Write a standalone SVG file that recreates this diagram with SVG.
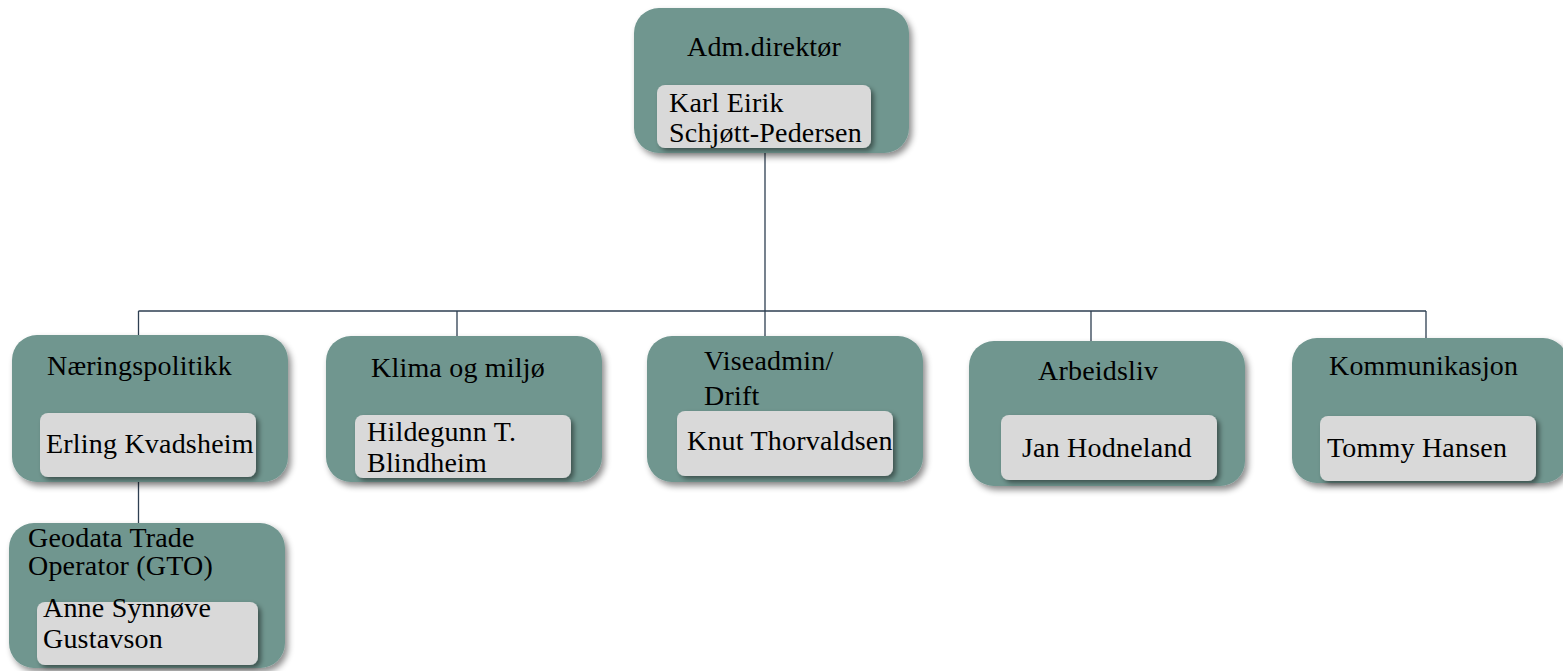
<svg xmlns="http://www.w3.org/2000/svg" width="1563" height="671" viewBox="0 0 1563 671">
<style>
.outer{fill:#6f968f;filter:url(#sh)}
.inner{fill:#d9d9d9;filter:url(#sh2)}
.t{font-family:"Liberation Serif","Times New Roman",serif;font-size:28px;letter-spacing:0.2px;fill:#000}
.c{stroke:#2e3f52;stroke-width:1.3;fill:none}
</style>
<defs>
<filter id="sh" x="-10%" y="-10%" width="125%" height="130%">
<feDropShadow dx="3" dy="4" stdDeviation="3" flood-color="#000" flood-opacity="0.45"/>
</filter>
<filter id="sh2" x="-10%" y="-10%" width="125%" height="135%">
<feDropShadow dx="3" dy="3" stdDeviation="2.5" flood-color="#000" flood-opacity="0.45"/>
</filter>
</defs>
<rect width="1563" height="671" fill="#fff"/>
<g id="connectors">
<path class="c" d="M765 153V336M138.5 311H1426M138.5 311V335M457 311V336M1091 311V341M1426 311V338M138.5 482V523"/>
</g>
<g id="adm">
<rect class="outer" x="634" y="8" width="275" height="145" rx="25"/>
<rect class="inner" x="657" y="85" width="214" height="63" rx="8"/>
<text class="t" x="687" y="56">Adm.direktør</text>
<text class="t" x="669" y="112">Karl Eirik</text>
<text class="t" x="669" y="142">Schjøtt-Pedersen</text>
</g>
<g id="naering">
<rect class="outer" x="12" y="335" width="276" height="147" rx="25"/>
<rect class="inner" x="40" y="413" width="216" height="64" rx="8"/>
<text class="t" x="47" y="375">Næringspolitikk</text>
<text class="t" x="46" y="453">Erling Kvadsheim</text>
</g>
<g id="klima">
<rect class="outer" x="326" y="336" width="276" height="146" rx="25"/>
<rect class="inner" x="355" y="415" width="216" height="63" rx="8"/>
<text class="t" x="371" y="377">Klima og miljø</text>
<text class="t" x="367" y="441">Hildegunn T.</text>
<text class="t" x="367" y="472">Blindheim</text>
</g>
<g id="viseadmin">
<rect class="outer" x="647" y="336" width="276" height="146" rx="25"/>
<rect class="inner" x="677" y="411" width="216" height="65" rx="8"/>
<text class="t" x="704" y="370">Viseadmin/</text>
<text class="t" x="704" y="405">Drift</text>
<text class="t" x="687" y="450">Knut Thorvaldsen</text>
</g>
<g id="arbeidsliv">
<rect class="outer" x="969" y="341" width="276" height="145" rx="25"/>
<rect class="inner" x="1001" y="415" width="216" height="65" rx="8"/>
<text class="t" x="1038" y="380">Arbeidsliv</text>
<text class="t" x="1022" y="457">Jan Hodneland</text>
</g>
<g id="kommunikasjon">
<rect class="outer" x="1292" y="338" width="276" height="145" rx="25"/>
<rect class="inner" x="1320" y="416" width="216" height="65" rx="8"/>
<text class="t" x="1329" y="375">Kommunikasjon</text>
<text class="t" x="1327" y="457">Tommy Hansen</text>
</g>
<g id="gto">
<rect class="outer" x="9" y="523" width="276" height="145" rx="25"/>
<rect class="inner" x="37" y="602" width="221" height="63" rx="8"/>
<text class="t" x="28" y="547">Geodata Trade</text>
<text class="t" x="28" y="575">Operator (GTO)</text>
<text class="t" x="43" y="617">Anne Synnøve</text>
<text class="t" x="43" y="648">Gustavson</text>
</g>
</svg>
